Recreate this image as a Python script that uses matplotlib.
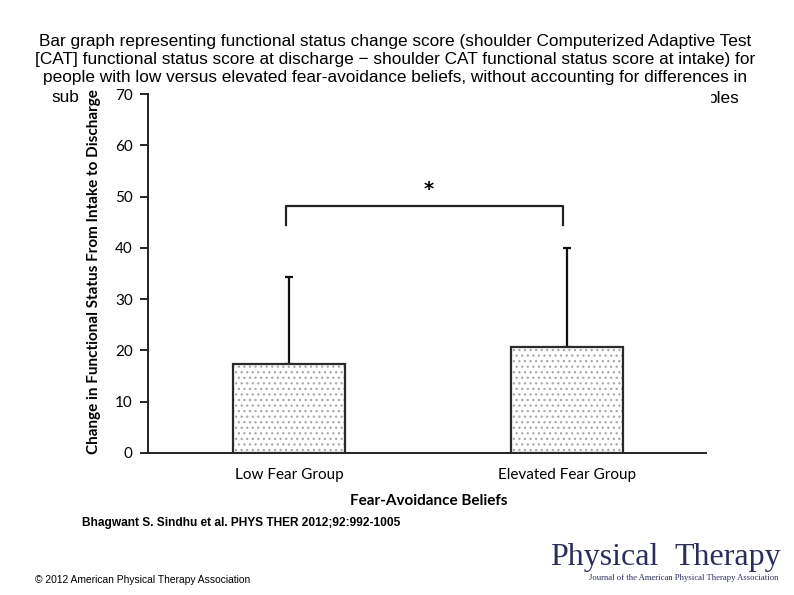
import matplotlib
matplotlib.use("Agg")
import matplotlib.pyplot as plt
from matplotlib.patches import Rectangle

# ---- data ----
groups = ["Low Fear Group", "Elevated Fear Group"]
means = [17.3, 20.7]
upper = [34.3, 40.0]          # top of error bars
yticks = [0, 10, 20, 30, 40, 50, 60, 70]
bracket_y = 48.2
bracket_leg = 44.4
star_y = 49.6

title = ("Bar graph representing functional status change score (shoulder Computerized Adaptive Test\n"
         "[CAT] functional status score at discharge \u2212 shoulder CAT functional status score at intake) for\n"
         "people with low versus elevated fear-avoidance beliefs, without accounting for differences in")
title_tail_left = "sub"
title_tail_right = "ples"
citation = "Bhagwant S. Sindhu et al. PHYS THER 2012;92:992-1005"
copyright_ = "\u00a9 2012 American Physical Therapy Association"

W, H = 794, 595
fig = plt.figure(figsize=(W / 100, H / 100), dpi=100)
fig.patch.set_facecolor("white")

tfont = dict(fontsize=12.4, family="Liberation Sans")
fig.text(0.5 - 2 / W, 1 - 34 / H, title, ha="center", va="top", linespacing=1.27,
         zorder=0.5, **tfont)
fig.text(51 / W, 1 - 98 / H, title_tail_left, ha="left", va="center", zorder=0.5, **tfont)
fig.text(740 / W, 1 - 98 / H, title_tail_right, ha="right", va="center", zorder=0.5, **tfont)
# white chart-image backdrop
fig.patches.append(Rectangle((84 / W, 1 - 515 / H), (711 - 84) / W, (515 - 88) / H,
                             transform=fig.transFigure, facecolor="white",
                             edgecolor="none", zorder=1))

ax = fig.add_axes([148 / W, 1 - 453 / H, (706 - 148) / W, (453 - 94) / H])
ax.set_zorder(2)
ax.patch.set_alpha(0)

x = [0, 1]
bw = 0.403
plt.rcParams["hatch.linewidth"] = 0.9
ax.bar(x, means, width=bw, color="white", edgecolor="#a8a8a8", hatch="...", linewidth=0, zorder=2)
ax.bar(x, means, width=bw, fill=False, edgecolor="#2a2a2a", linewidth=1.6, zorder=3)
yerr = [[0, 0], [u - m for u, m in zip(upper, means)]]
ax.errorbar(x, means, yerr=yerr, fmt="none", ecolor="#111111", elinewidth=1.6,
            capsize=3, capthick=1.6, zorder=1)

# significance bracket
xl, xr = -0.01, 0.985
ax.plot([xl, xl, xr, xr], [bracket_leg, bracket_y, bracket_y, bracket_leg],
        color="#222222", lw=1.6, zorder=3)
ax.text((xl + xr) / 2 + 0.015, star_y, "*", ha="center", va="bottom",
        fontsize=14, family="DejaVu Sans", fontweight="bold")

ax.set_xlim(-0.507, 1.5)
ax.set_ylim(0, 70)
ax.set_yticks(yticks)
ax.set_xticks(x)
ax.set_xticklabels(groups, family="Lato", fontsize=11)
ax.tick_params(axis="x", length=0, pad=11)
ax.tick_params(axis="y", direction="out", length=6, width=1.2, pad=5)
for lab in ax.get_yticklabels():
    lab.set_family("Lato")
    lab.set_fontsize(11)
for s in ["top", "right"]:
    ax.spines[s].set_visible(False)
for s in ["left", "bottom"]:
    ax.spines[s].set_linewidth(1.4)
    ax.spines[s].set_color("#222222")

ax.set_xlabel("Fear-Avoidance Beliefs", family="Lato", fontweight="bold", fontsize=11)
ax.xaxis.set_label_coords((429 - 148) / (706 - 148), -(494 - 453) / (453 - 94))
ax.set_ylabel("Change in Functional Status From Intake to Discharge", family="Lato",
              fontweight="bold", fontsize=11)
ax.yaxis.set_label_coords(-(148 - 101) / (706 - 148), 0.505)

fig.text(82 / W, 1 - 523 / H, citation, ha="left", va="center", fontsize=8.6,
         family="Liberation Sans", fontweight="bold")
fig.text(35 / W, 1 - 580 / H, copyright_, ha="left", va="center", fontsize=7.4,
         family="Liberation Sans")

# journal logo
navy = "#2b2e5c"
fig.text(550 / W, 1 - 558 / H, "Physical", ha="left", va="center", fontsize=23,
         family="Liberation Serif", color=navy)
fig.text(781 / W, 1 - 558 / H, "Therapy", ha="right", va="center", fontsize=23,
         family="Liberation Serif", color=navy)
fig.text(778 / W, 1 - 578 / H, "Journal of the American Physical Therapy Association",
         ha="right", va="center", fontsize=6.2, family="Liberation Serif", color=navy)

fig.savefig("out.png", dpi=100, facecolor="white")
